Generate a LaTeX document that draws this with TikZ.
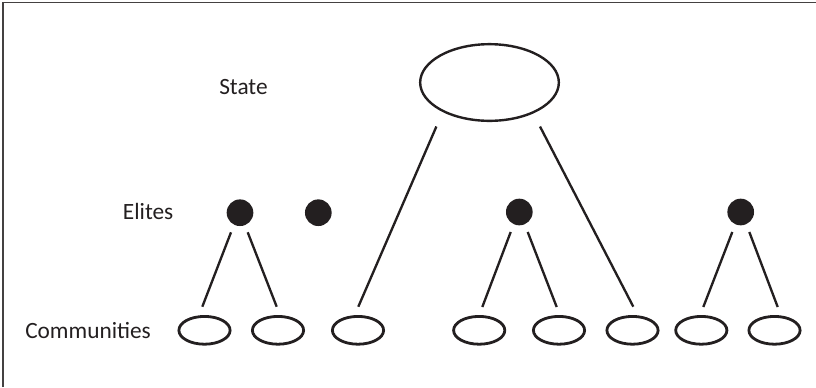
\documentclass[tikz,border=0pt]{standalone}
\usepackage{fontspec}
\setmainfont{Carlito}
\usetikzlibrary{shapes.geometric}
\definecolor{ink}{HTML}{231F20}
\begin{document}
\begin{tikzpicture}[x=0.75pt,y=-0.75pt,
  community/.style={ellipse,draw=ink,line width=2.1pt,inner sep=0pt,minimum width=38.4pt,minimum height=20.85pt},
  statebox/.style={ellipse,draw=ink,line width=1.8pt,inner sep=0pt,minimum width=104pt,minimum height=57.5pt},
  elite/.style={circle,fill=ink,inner sep=0pt,minimum size=20pt},
  label/.style={anchor=base west,inner sep=0pt,text=ink,font=\fontsize{17.5pt}{20pt}\selectfont},
  link/.style={draw=ink,line width=1.75pt}]
\useasboundingbox (0,0) rectangle (816,387);
\draw[line width=1.1pt,draw=ink!85] (3,387) -- (3,2.5) -- (816,2.5);
% labels
\node[label] (tstate) at (219,94.3) {State};
\node[label] (telites) at (122.7,219.3) {Elites};
\node[label] (tcomm) at (25,338) {Communities};
% state
\node[statebox] (s) at (489.5,82.5) {};
% elites
\node[elite] (e1) at (240,212.7) {};
\node[elite] (e2) at (318.3,212.7) {};
\node[elite] (e3) at (519.3,212) {};
\node[elite] (e4) at (740.7,212) {};
% communities
\node[community] (c1) at (204.5,330.3) {};
\node[community] (c2) at (278,330.3) {};
\node[community] (c3) at (358,330.3) {};
\node[community] (c4) at (479.2,330.3) {};
\node[community] (c5) at (559,330.3) {};
\node[community] (c6) at (632.5,330.3) {};
\node[community] (c7) at (701.3,330.3) {};
\node[community] (c8) at (774.5,330.3) {};
% connectors
\draw[link] ([shift={(-9,19.6)}]e1.center) -- ([shift={(-2.2,-23.6)}]c1.center);
\draw[link] ([shift={(7.7,19.6)}]e1.center) -- ([shift={(-1.3,-23.6)}]c2.center);
\draw[link] ([shift={(-8.6,20)}]e3.center) -- ([shift={(3.1,-23.3)}]c4.center);
\draw[link] ([shift={(8.4,20)}]e3.center) -- ([shift={(-2.3,-23.3)}]c5.center);
\draw[link] ([shift={(-8.4,20)}]e4.center) -- ([shift={(2,-23.3)}]c7.center);
\draw[link] ([shift={(8.6,20)}]e4.center) -- ([shift={(3.2,-23.3)}]c8.center);
\draw[link] ([shift={(-53.1,44)}]s.center) -- ([shift={(0.3,-23.6)}]c3.center);
\draw[link] ([shift={(50.5,44)}]s.center) -- ([shift={(0.8,-23.6)}]c6.center);
\end{tikzpicture}
\end{document}
